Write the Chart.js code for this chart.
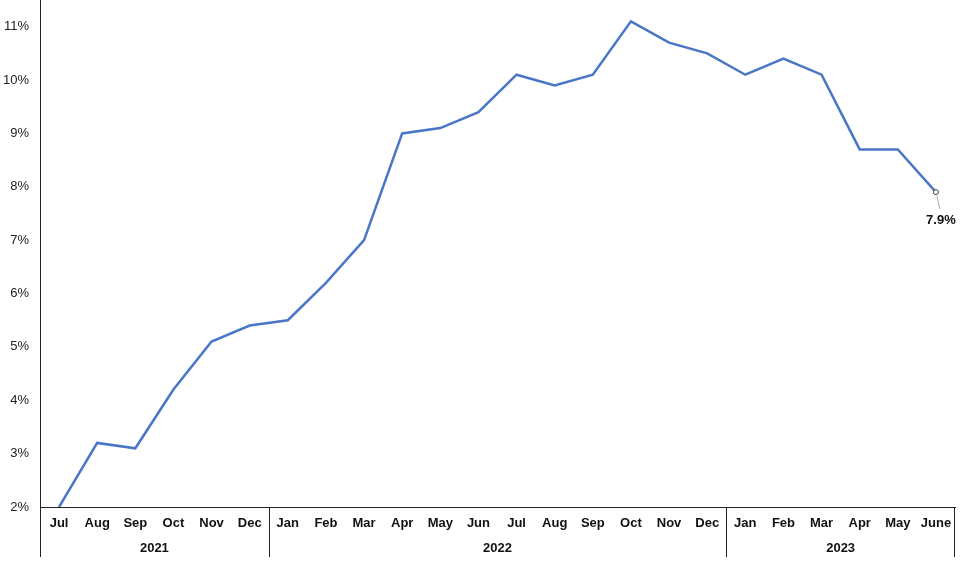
<!DOCTYPE html>
<html>
<head>
<meta charset="utf-8">
<script src="https://cdn.jsdelivr.net/npm/chart.js@4.4.1/dist/chart.umd.min.js"></script>
<style>
  html, body { margin: 0; padding: 0; background: #fff; }
  #wrap { width: 960px; height: 561px; }
</style>
</head>
<body>
<div id="wrap"><canvas id="chart"></canvas></div>
<script>
// months Jul 2021 .. June 2023
const months = ['Jul', 'Aug', 'Sep', 'Oct', 'Nov', 'Dec',
  'Jan', 'Feb', 'Mar', 'Apr', 'May', 'Jun', 'Jul', 'Aug', 'Sep', 'Oct', 'Nov', 'Dec',
  'Jan', 'Feb', 'Mar', 'Apr', 'May', 'June'];
const years = ['2021', '2022', '2023'];
const yearStart = [0, 6, 18]; // index of first month in each year
const rates = [2.0, 3.2, 3.1, 4.2, 5.1, 5.4,
  5.5, 6.2, 7.0, 9.0, 9.1, 9.4, 10.1, 9.9, 10.1, 11.1, 10.7, 10.5,
  10.1, 10.4, 10.1, 8.7, 8.7, 7.9];
const yTicks = [2, 3, 4, 5, 6, 7, 8, 9, 10, 11];

const FONT = 'Liberation Sans, Arial, Helvetica, sans-serif';
const lastIdx = rates.length - 1;

// year groups, separators and the end label
const extras = {
  id: 'extras',
  afterDraw(chart) {
    const { ctx, chartArea } = chart;
    const x = chart.scales.x;
    const bottom = chartArea.bottom;
    const half = (x.getPixelForValue(1) - x.getPixelForValue(0)) / 2;
    ctx.save();
    ctx.strokeStyle = '#222';
    ctx.lineWidth = 1;
    // left axis runs from the canvas top down through the label rows
    ctx.beginPath();
    ctx.moveTo(chartArea.left + 0.5, 0);
    ctx.lineTo(chartArea.left + 0.5, bottom + 50);
    // separators between years + right edge
    for (let i = 1; i < yearStart.length; i++) {
      const sx = Math.round(x.getPixelForValue(yearStart[i]) - half) + 0.5;
      ctx.moveTo(sx, bottom);
      ctx.lineTo(sx, bottom + 50);
    }
    ctx.moveTo(chartArea.right - 0.5, bottom);
    ctx.lineTo(chartArea.right - 0.5, bottom + 50);
    ctx.stroke();

    ctx.fillStyle = '#111';
    ctx.font = 'bold 13px ' + FONT;
    ctx.textAlign = 'center';
    ctx.textBaseline = 'middle';
    yearStart.forEach((s, i) => {
      const e = i + 1 < yearStart.length ? yearStart[i + 1] - 1 : months.length - 1;
      const cx = (x.getPixelForValue(s) + x.getPixelForValue(e)) / 2;
      ctx.fillText(years[i], cx, bottom + 41);
    });

    // marker + callout for the last value
    const pt = chart.getDatasetMeta(0).data[lastIdx];
    ctx.strokeStyle = '#aaa';
    ctx.beginPath();
    ctx.moveTo(pt.x + 1, pt.y + 4);
    ctx.lineTo(pt.x + 4, pt.y + 17);
    ctx.stroke();
    ctx.beginPath();
    ctx.arc(pt.x, pt.y, 2.5, 0, Math.PI * 2);
    ctx.fillStyle = '#fff';
    ctx.fill();
    ctx.strokeStyle = '#444';
    ctx.stroke();
    ctx.fillStyle = '#111';
    ctx.font = 'bold 13px ' + FONT;
    ctx.fillText(rates[lastIdx].toFixed(1) + '%', pt.x + 5, pt.y + 28);
    ctx.restore();
  }
};

new Chart(document.getElementById('chart'), {
  type: 'line',
  data: {
    labels: months,
    datasets: [{
      data: rates,
      borderColor: '#4a76c8',
      borderWidth: 2.5,
      tension: 0,
      pointRadius: 0,
      pointHoverRadius: 0,
      pointHitRadius: 0
    }]
  },
  options: {
    responsive: true,
    maintainAspectRatio: false,
    animation: false,
    layout: { padding: { left: 0, right: 5, top: 0, bottom: 0 } },
    plugins: { legend: { display: false }, tooltip: { enabled: false } },
    scales: {
      x: {
        offset: true,
        grid: { display: false },
        border: { color: '#222', width: 1 },
        ticks: {
          color: '#111',
          font: { family: FONT, size: 13, weight: 'bold' },
          padding: 1,
          maxRotation: 0,
          autoSkip: false
        },
        afterFit(scale) {
          scale.height = 54;
          scale.paddingLeft = 0;
          scale.paddingRight = 0;
        }
      },
      y: {
        min: 2,
        max: 11.5,
        grid: { display: false },
        border: { color: '#222', width: 1 },
        afterBuildTicks(scale) { scale.ticks = yTicks.map(v => ({ value: v })); },
        ticks: {
          color: '#222',
          font: { family: FONT, size: 13 },
          padding: 3,
          callback: v => v + '%'
        },
        afterFit(scale) {
          scale.width = 40;
          scale.paddingTop = 0;
          scale.paddingBottom = 0;
        }
      }
    }
  },
  plugins: [extras]
});
</script>
</body>
</html>
